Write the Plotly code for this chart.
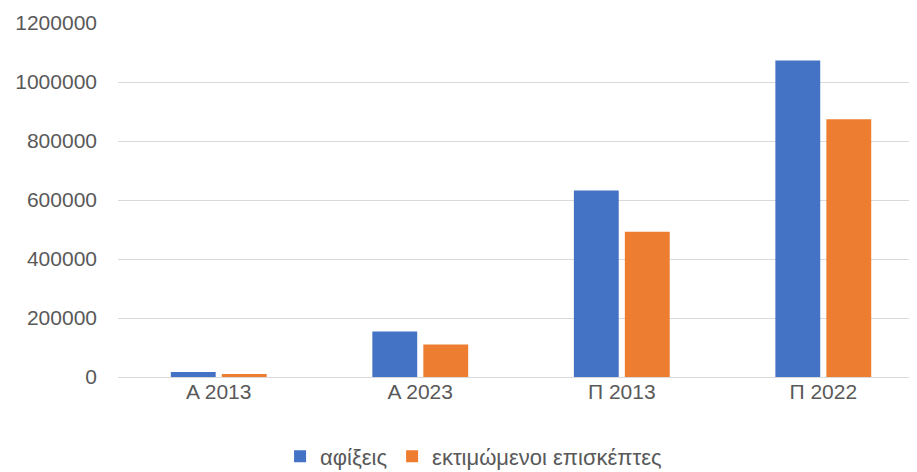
import plotly.graph_objects as go

categories = ["Α 2013", "Α 2023", "Π 2013", "Π 2022"]
arrivals = [17000, 154000, 632000, 1073000]
visitors = [10000, 110000, 492000, 874000]
series_names = ["αφίξεις", "εκτιμώμενοι επισκέπτες"]
y_ticks = [0, 200000, 400000, 600000, 800000, 1000000, 1200000]

font_family = "Liberation Sans, Arial, sans-serif"
text_color = "#595959"

fig = go.Figure()
fig.add_trace(go.Bar(x=categories, y=arrivals, name=series_names[0],
                     marker=dict(color="#4472C4", line=dict(width=0))))
fig.add_trace(go.Bar(x=categories, y=visitors, name=series_names[1],
                     marker=dict(color="#ED7D31", line=dict(width=0))))

fig.update_layout(
    width=909, height=464,
    margin=dict(l=110, r=0, t=15, b=95, autoexpand=False),
    paper_bgcolor="white", plot_bgcolor="white",
    barmode="group", bargap=0.494, bargroupgap=0.12,
    font=dict(family=font_family, size=21, color=text_color),
    showlegend=True,
    legend=dict(orientation="h", x=0.445, xanchor="center", y=-0.165, yanchor="top",
                font=dict(size=22, color=text_color), itemclick=False),
    xaxis=dict(range=[-0.5, 3.465], showgrid=False, showline=False, ticks="",
               automargin=False,
               tickfont=dict(size=21, color=text_color), fixedrange=True),
    yaxis=dict(range=[0, 1200000], tickvals=y_ticks, ticktext=[str(v) for v in y_ticks],
               showgrid=True, gridcolor="#d9d9d9", gridwidth=1,
               zeroline=True, zerolinecolor="#d9d9d9", zerolinewidth=1,
               showline=False, ticks="", ticklabelstandoff=20, automargin=False,
               tickfont=dict(size=21, color=text_color), fixedrange=True),
)

fig.write_html("out.html")
